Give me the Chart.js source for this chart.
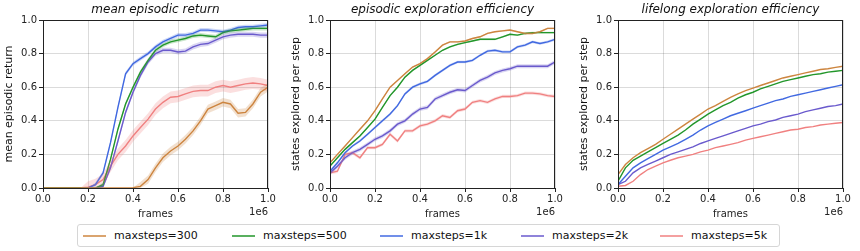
<!DOCTYPE html>
<html>
<head>
<meta charset="utf-8">
<script src="https://cdn.jsdelivr.net/npm/chart.js@4.4.1/dist/chart.umd.min.js"></script>
<style>
  body { margin: 0; background: #fff; font-family: "DejaVu Sans", sans-serif; }
  #wrap { position: relative; width: 860px; height: 251px; }
  .panel { position: absolute; top: 0; width: 285px; height: 222px; }
  #legend {
    position: absolute; left: 77px; top: 224px; width: 703px; height: 23px;
    border: 1px solid #d6d6d6; border-radius: 3px; box-sizing: border-box;
    font-size: 11px; color: #111;
  }
  .item { position: absolute; top: 0; height: 21px; display: flex; align-items: center; white-space: nowrap; }
  .swatch { width: 23px; height: 2px; margin-right: 8px; }
</style>
</head>
<body>
<div id="wrap">
  <div class="panel" style="left:0px"><canvas id="c1"></canvas></div>
  <div class="panel" style="left:287px"><canvas id="c2"></canvas></div>
  <div class="panel" style="left:575px"><canvas id="c3"></canvas></div>
  <div id="legend"></div>
</div>
<script>
// x positions (in units of 1e6 frames)
const frames = [0, 0.033, 0.067, 0.1, 0.133, 0.167, 0.2, 0.233, 0.267, 0.3, 0.333, 0.367, 0.4, 0.433, 0.467,
  0.5, 0.533, 0.567, 0.6, 0.633, 0.667, 0.7, 0.733, 0.767, 0.8, 0.833, 0.867, 0.9, 0.933, 0.967, 1.0];

const labels = ['maxsteps=300', 'maxsteps=500', 'maxsteps=1k', 'maxsteps=2k', 'maxsteps=5k'];
const colors = ['#cd853f', '#22962a', '#4169e1', '#6a5acd', '#f08080'];

// mean episodic return
const ret300 = [0,0,0,0,0,0,0,0,0,0,0,0,0.002,0.01,0.05,0.12,0.18,0.22,0.25,0.29,0.34,0.4,0.47,0.49,0.51,0.5,0.445,0.45,0.5,0.57,0.6];
const ret500 = [0,0,0,0,0,0,0,0,0.02,0.17,0.35,0.5,0.6,0.69,0.76,0.82,0.85,0.87,0.88,0.89,0.905,0.91,0.905,0.9,0.925,0.935,0.94,0.945,0.95,0.95,0.95];
const ret1k  = [0,0,0,0,0,0,0,0.02,0.09,0.27,0.48,0.68,0.74,0.77,0.8,0.84,0.87,0.89,0.91,0.91,0.92,0.94,0.94,0.935,0.93,0.94,0.955,0.96,0.96,0.965,0.97];
const ret2k  = [0,0,0,0,0,0,0,0,0.01,0.12,0.28,0.45,0.57,0.67,0.75,0.8,0.82,0.82,0.81,0.815,0.84,0.855,0.86,0.88,0.9,0.91,0.915,0.915,0.915,0.91,0.91];
const ret5k  = [0,0,0,0,0,0,0.005,0.02,0.05,0.13,0.2,0.25,0.31,0.36,0.41,0.47,0.51,0.54,0.545,0.56,0.575,0.58,0.58,0.6,0.61,0.6,0.61,0.62,0.625,0.62,0.61];
const retSpread = [0.025, 0.012, 0.012, 0.015, 0.035];

// episodic exploration efficiency
const epi300 = [0.15,0.2,0.25,0.3,0.35,0.4,0.46,0.53,0.6,0.64,0.68,0.72,0.74,0.77,0.81,0.85,0.87,0.87,0.875,0.89,0.9,0.92,0.93,0.935,0.94,0.93,0.92,0.92,0.93,0.95,0.95];
const epi500 = [0.13,0.18,0.23,0.27,0.31,0.36,0.41,0.48,0.55,0.6,0.66,0.7,0.73,0.76,0.79,0.82,0.84,0.855,0.865,0.875,0.885,0.885,0.885,0.9,0.915,0.91,0.92,0.925,0.925,0.925,0.925];
const epi1k  = [0.1,0.15,0.21,0.25,0.28,0.32,0.36,0.4,0.44,0.49,0.56,0.6,0.62,0.635,0.67,0.7,0.73,0.75,0.75,0.76,0.79,0.815,0.82,0.81,0.81,0.84,0.85,0.87,0.86,0.87,0.885];
const epi2k  = [0.09,0.13,0.18,0.21,0.23,0.26,0.29,0.31,0.34,0.38,0.4,0.44,0.47,0.48,0.53,0.55,0.57,0.585,0.58,0.61,0.64,0.66,0.685,0.7,0.71,0.725,0.725,0.725,0.725,0.725,0.75];
const epi5k  = [0.09,0.1,0.2,0.21,0.18,0.24,0.24,0.26,0.32,0.28,0.34,0.34,0.37,0.38,0.4,0.43,0.42,0.46,0.47,0.51,0.52,0.51,0.53,0.545,0.545,0.55,0.565,0.565,0.56,0.55,0.545];
const epiSpread = [0.005, 0.005, 0.008, 0.012, 0.01];

// lifelong exploration efficiency
const life300 = [0.08,0.14,0.18,0.21,0.235,0.26,0.29,0.32,0.35,0.38,0.41,0.44,0.47,0.49,0.515,0.54,0.56,0.58,0.595,0.61,0.625,0.64,0.655,0.665,0.675,0.685,0.695,0.705,0.71,0.718,0.725];
const life500 = [0.04,0.12,0.165,0.19,0.215,0.24,0.265,0.29,0.315,0.345,0.38,0.41,0.44,0.465,0.49,0.51,0.535,0.555,0.57,0.59,0.605,0.62,0.635,0.645,0.655,0.665,0.675,0.68,0.69,0.695,0.7];
const life1k  = [0.02,0.07,0.12,0.15,0.175,0.2,0.225,0.245,0.265,0.29,0.315,0.345,0.37,0.39,0.41,0.43,0.445,0.46,0.475,0.49,0.505,0.52,0.53,0.545,0.555,0.565,0.575,0.585,0.595,0.605,0.615];
const life2k  = [0.02,0.04,0.09,0.12,0.14,0.16,0.18,0.2,0.215,0.23,0.245,0.265,0.28,0.295,0.31,0.325,0.34,0.355,0.37,0.38,0.395,0.405,0.42,0.43,0.44,0.455,0.465,0.475,0.485,0.49,0.5];
const life5k  = [0.01,0.015,0.04,0.08,0.11,0.13,0.15,0.165,0.18,0.19,0.2,0.215,0.225,0.24,0.25,0.26,0.27,0.285,0.295,0.305,0.315,0.325,0.335,0.345,0.35,0.36,0.365,0.375,0.38,0.385,0.39];

const xTicks = [0, 0.2, 0.4, 0.6, 0.8, 1.0];
const yTicks = [0, 0.2, 0.4, 0.6, 0.8, 1.0];

function rgba(hex, a) {
  const n = parseInt(hex.slice(1), 16);
  return `rgba(${n >> 16}, ${(n >> 8) & 255}, ${n & 255}, ${a})`;
}

// box around the axes, centred title and the "1e6" offset label
const frameBox = {
  id: 'frameBox',
  afterDraw(chart, args, opts) {
    const a = chart.chartArea, ctx = chart.ctx;
    ctx.save();
    ctx.strokeStyle = '#222';
    ctx.lineWidth = 1;
    ctx.strokeRect(Math.round(a.left) + 0.5, Math.round(a.top) + 0.5, Math.round(a.right - a.left) - 1, Math.round(a.bottom - a.top));
    ctx.fillStyle = '#222';
    ctx.font = '10px "DejaVu Sans"';
    ctx.textAlign = 'right';
    ctx.textBaseline = 'middle';
    ctx.fillText('1e6', a.right, a.bottom + 24);
    ctx.fillStyle = '#111';
    ctx.font = 'italic 12px "DejaVu Sans"';
    ctx.textAlign = 'center';
    ctx.fillText(opts.text, (a.left + a.right) / 2, 10);
    ctx.restore();
  }
};

function makeChart(id, title, yTitle, series, spreads) {
  const datasets = [];
  series.forEach((vals, i) => {
    if (spreads) {
      const s = spreads[i];
      datasets.push({
        data: frames.map((x, k) => ({ x, y: vals[k] > 0.004 ? vals[k] + s : vals[k] })),
        borderWidth: 0, pointRadius: 0, fill: false, backgroundColor: 'transparent'
      });
      datasets.push({
        data: frames.map((x, k) => ({ x, y: vals[k] > 0.004 ? Math.max(0, vals[k] - s) : vals[k] })),
        borderWidth: 0, pointRadius: 0, fill: '-1', backgroundColor: rgba(colors[i], 0.25)
      });
    }
  });
  series.forEach((vals, i) => {
    datasets.push({
      label: labels[i],
      data: frames.map((x, k) => ({ x, y: vals[k] })),
      borderColor: colors[i], borderWidth: 1.4, pointRadius: 0, fill: false, tension: 0
    });
  });

  return new Chart(document.getElementById(id), {
    type: 'line',
    data: { datasets },
    plugins: [frameBox],
    options: {
      responsive: true, maintainAspectRatio: false, animation: false,
      layout: { padding: { left: 0, right: 17, top: 20, bottom: 0 } },
      plugins: {
        legend: { display: false }, tooltip: { enabled: false },
        frameBox: { text: title }
      },
      scales: {
        x: {
          type: 'linear', min: 0, max: 1,
          afterFit: s => { s.height = 34; },
          afterBuildTicks: s => { s.ticks = xTicks.map(v => ({ value: v })); },
          ticks: { color: '#222', font: { family: 'DejaVu Sans', size: 10 }, padding: 1, maxRotation: 0,
                   callback: v => v.toFixed(1) },
          grid: { color: 'rgba(0,0,0,0.14)', tickColor: '#222', tickLength: 4 },
          border: { display: false },
          title: { display: true, text: 'frames', color: '#222', font: { family: 'DejaVu Sans', size: 10 },
                   padding: { top: 0, bottom: 2 } }
        },
        y: {
          min: 0, max: 1,
          afterFit: s => { s.width = 43; },
          afterBuildTicks: s => { s.ticks = yTicks.map(v => ({ value: v })); },
          ticks: { color: '#222', font: { family: 'DejaVu Sans', size: 10 }, padding: 2,
                   callback: v => v.toFixed(1) },
          grid: { color: 'rgba(0,0,0,0.14)', tickColor: '#222', tickLength: 4 },
          border: { display: false },
          title: { display: true, text: yTitle, color: '#111', font: { family: 'DejaVu Sans', size: 11 },
                   padding: { top: 3, bottom: 0 } }
        }
      }
    }
  });
}

makeChart('c1', 'mean episodic return', 'mean episodic return',
  [ret300, ret500, ret1k, ret2k, ret5k], retSpread);
makeChart('c2', 'episodic exploration efficiency', 'states explored per step',
  [epi300, epi500, epi1k, epi2k, epi5k], epiSpread);
makeChart('c3', 'lifelong exploration efficiency', 'states explored per step',
  [life300, life500, life1k, life2k, life5k], null);

// shared legend under the three panels (item offsets inside the box)
const legendOffsets = [5, 154, 302, 443, 582];
const legend = document.getElementById('legend');
labels.forEach((lab, i) => {
  const item = document.createElement('div');
  item.className = 'item';
  item.style.left = legendOffsets[i] + 'px';
  const sw = document.createElement('span');
  sw.className = 'swatch';
  sw.style.background = rgba(colors[i], 0.75);
  const tx = document.createElement('span');
  tx.textContent = lab;
  item.appendChild(sw);
  item.appendChild(tx);
  legend.appendChild(item);
});
</script>
</body>
</html>
